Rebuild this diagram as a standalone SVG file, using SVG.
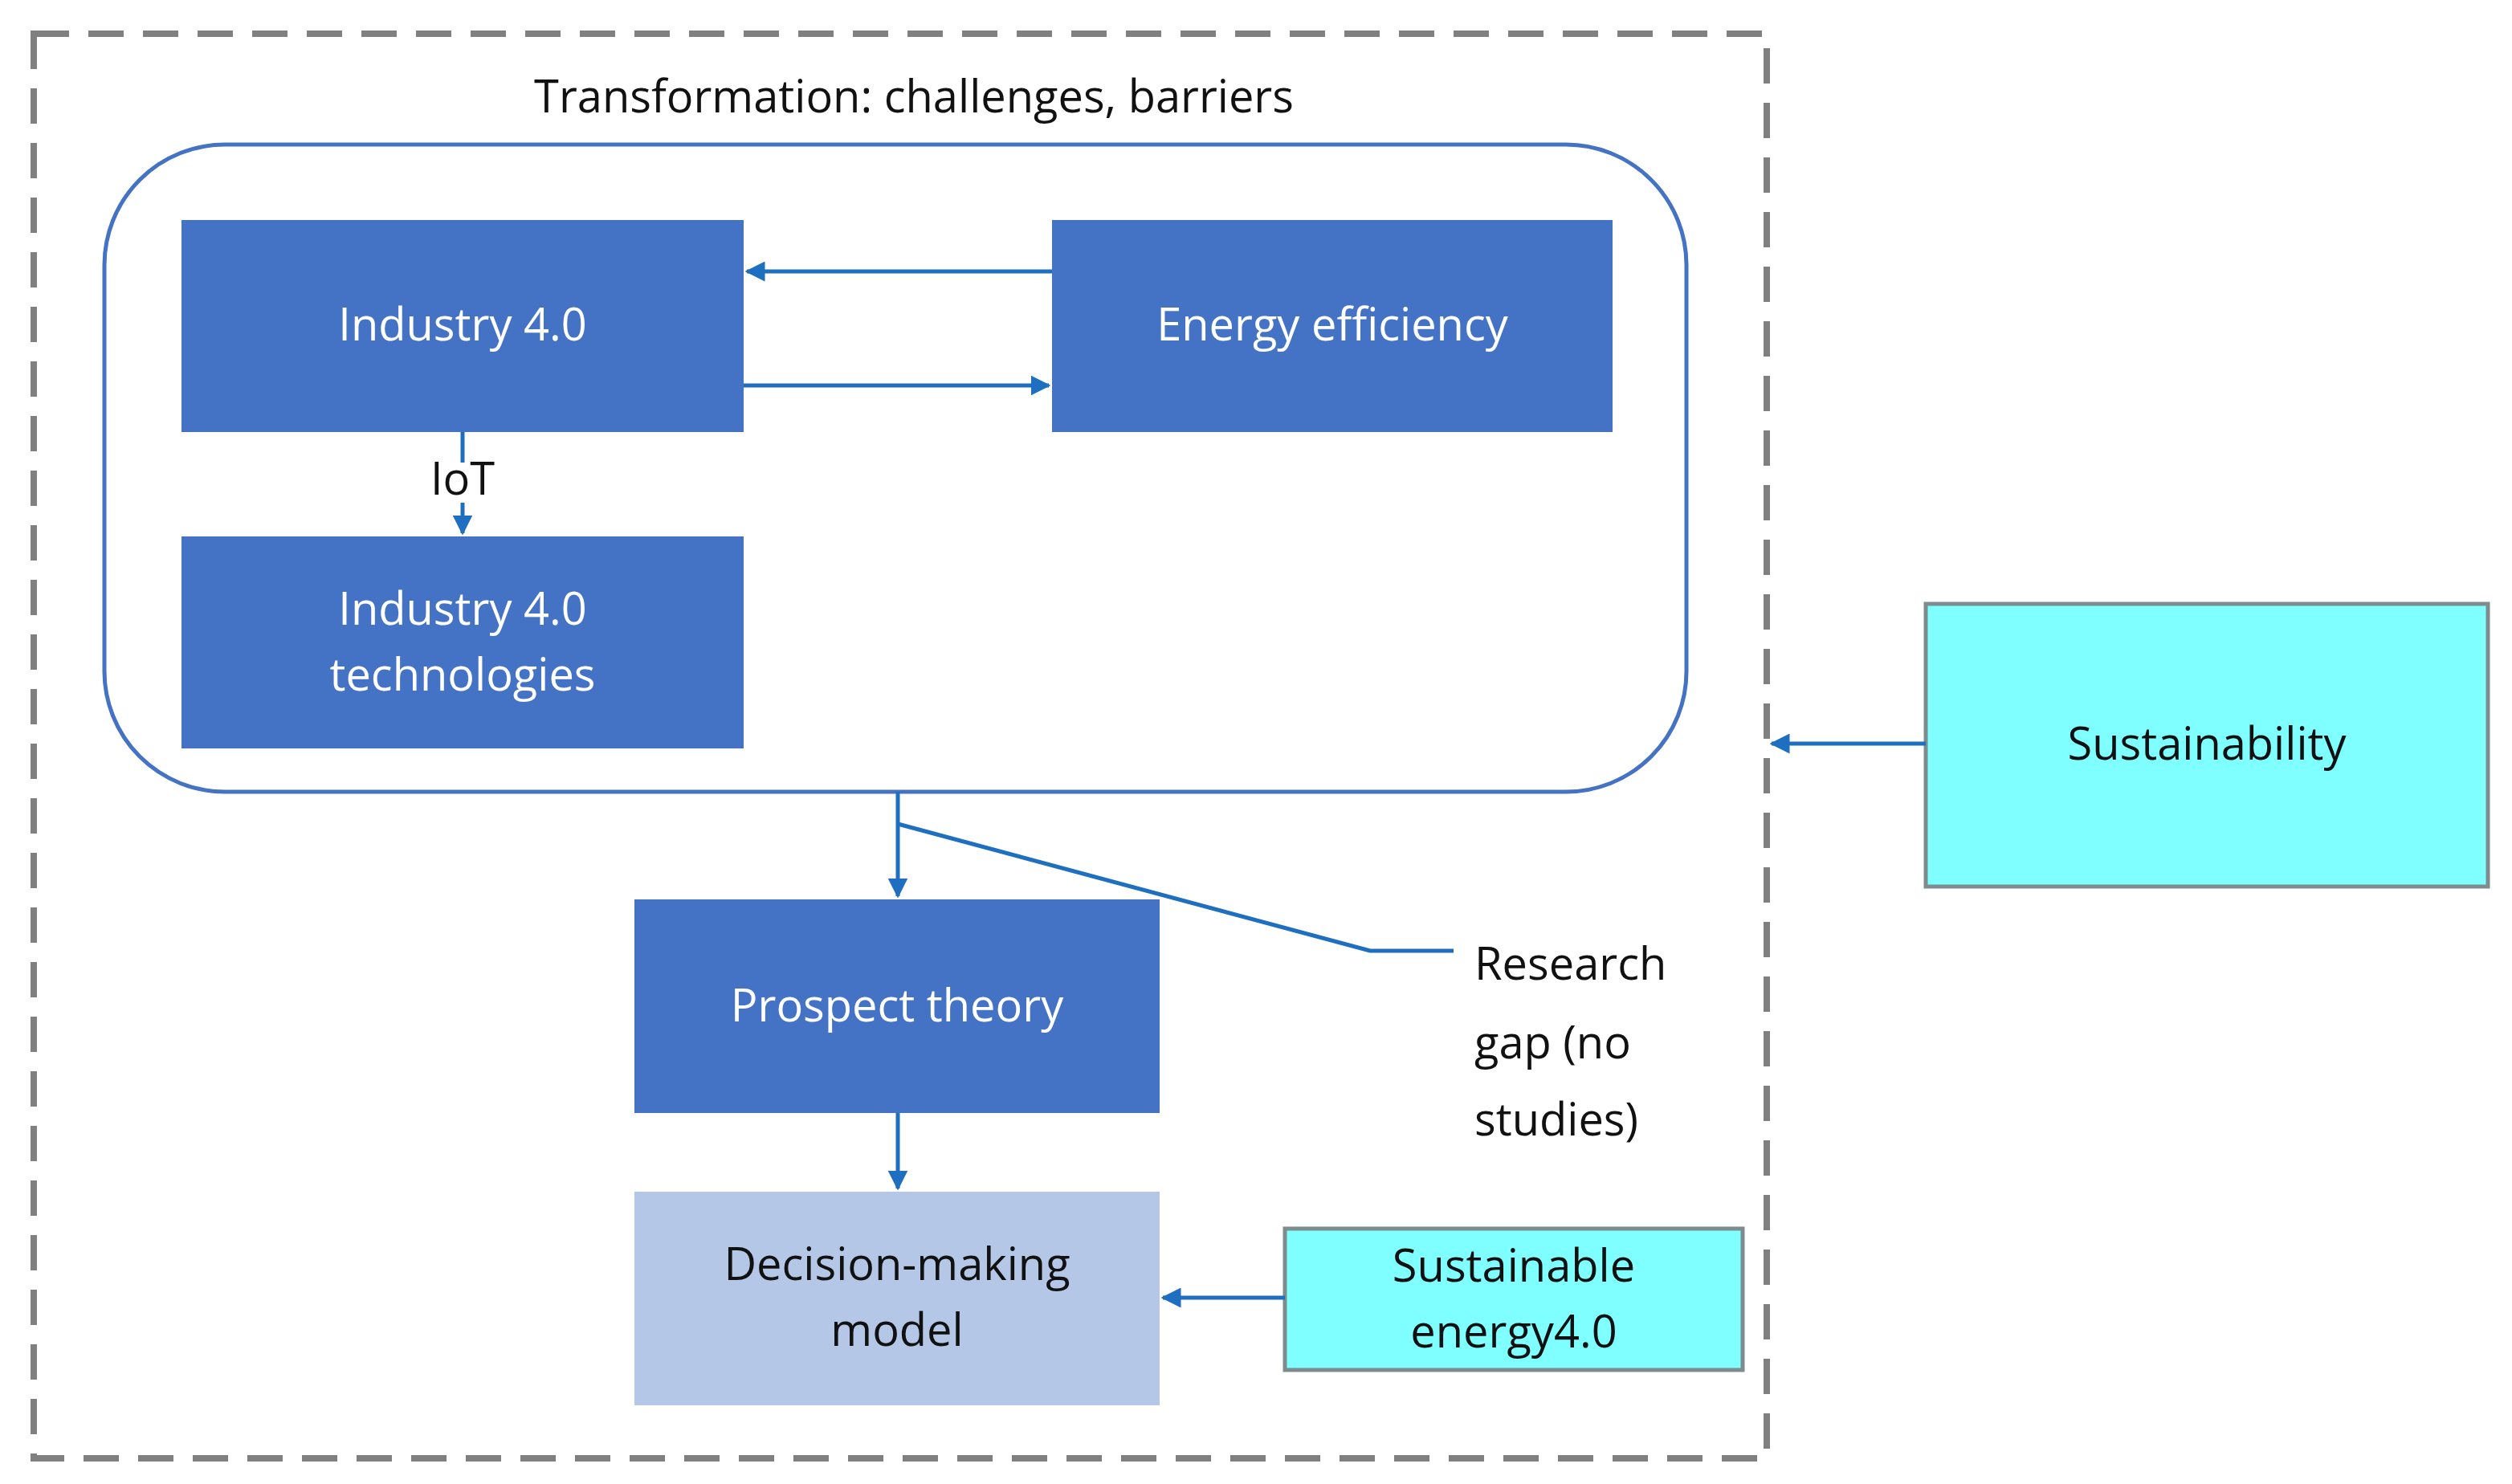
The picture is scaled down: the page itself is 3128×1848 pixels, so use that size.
<svg xmlns="http://www.w3.org/2000/svg" width="3128" height="1848" viewBox="0 0 3128 1848">
<defs>
<style>
text{font-family:"Open Sans","Liberation Sans",sans-serif;font-size:56px;text-anchor:middle}
.w{fill:#fff}.k{fill:#111}
.dark{fill:#4472c4}
.cy{fill:#7fffff;stroke:#7f8c8d;stroke-width:5}
.c{stroke:#1f6fc0;stroke-width:5;fill:none}
</style>
<marker id="a" viewBox="0 0 10 10" refX="9" refY="5" markerWidth="5" markerHeight="5" orient="auto"><path d="M0,0L10,5L0,10z" fill="#1f6fc0"/></marker>
</defs>
<rect x="0" y="0" width="3128" height="1848" fill="#fff"/>
<g id="outer"><rect x="42" y="42" width="2158" height="1774" fill="none" stroke="#808080" stroke-width="8" stroke-dasharray="44,24"/>
<text x="1138" y="140" class="k" font-size="68">Transformation: challenges, barriers</text></g>
<g id="container"><rect x="130" y="180" width="1970" height="806" rx="150" fill="none" stroke="#4472c4" stroke-width="5"/></g>
<g id="industry"><rect x="226" y="274" width="700" height="264" class="dark"/><text x="576" y="424" class="w">Industry 4.0</text></g>
<g id="energy"><rect x="1310" y="274" width="698" height="264" class="dark"/><text x="1659" y="424" class="w">Energy efficiency</text></g>
<g id="tech"><rect x="226" y="668" width="700" height="264" class="dark"/><text x="576" y="778" class="w">Industry  4.0</text><text x="576" y="860" class="w">technologies</text></g>
<g id="prospect"><rect x="790" y="1120" width="654" height="266" class="dark"/><text x="1117" y="1272" class="w">Prospect theory</text></g>
<g id="decision"><rect x="790" y="1484" width="654" height="266" fill="#b4c7e7"/><text x="1117" y="1594" class="k">Decision-making</text><text x="1117" y="1676" class="k">model</text></g>
<g id="sustEnergy"><rect x="1600" y="1530" width="570" height="176" class="cy"/><text x="1885" y="1596" class="k">Sustainable</text><text x="1885" y="1678" class="k">energy4.0</text></g>
<g id="sustainability"><rect x="2398" y="752" width="700" height="352" class="cy"/><text x="2748" y="946" class="k">Sustainability</text></g>
<g id="research"><text x="1836" y="1220" class="k" text-anchor="start" style="text-anchor:start">Research</text><text x="1836" y="1318" class="k" style="text-anchor:start">gap (no</text><text x="1836" y="1414" class="k" style="text-anchor:start">studies)</text></g>
<g id="connectors">
<line x1="1310" y1="338" x2="930" y2="338" class="c" marker-end="url(#a)"/>
<line x1="926" y1="480" x2="1306" y2="480" class="c" marker-end="url(#a)"/>
<line x1="576" y1="538" x2="576" y2="664" class="c" marker-end="url(#a)"/>
<rect x="540" y="576" width="72" height="50" fill="#fff"/>
<text x="576" y="616" class="k" font-size="40">IoT</text>
<line x1="1118" y1="986" x2="1118" y2="1116" class="c" marker-end="url(#a)"/>
<polyline points="1118,1026 1706,1184 1810,1184" class="c" stroke-width="4"/>
<line x1="1118" y1="1386" x2="1118" y2="1480" class="c" marker-end="url(#a)"/>
<line x1="1600" y1="1616" x2="1448" y2="1616" class="c" marker-end="url(#a)"/>
<line x1="2398" y1="926" x2="2206" y2="926" class="c" marker-end="url(#a)"/>
</g>
</svg>
